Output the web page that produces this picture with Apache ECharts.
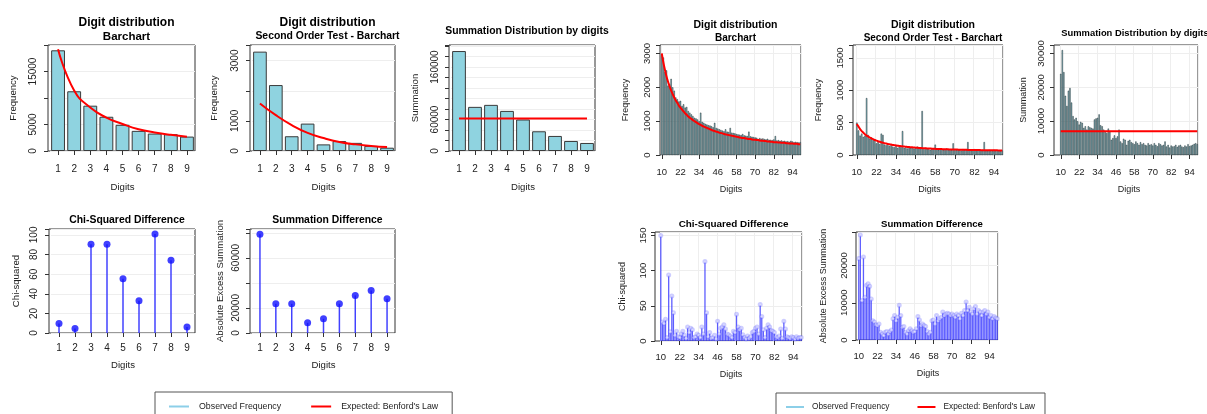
<!DOCTYPE html>
<html>
<head>
<meta charset="utf-8">
<script src="https://cdn.jsdelivr.net/npm/echarts@6/dist/echarts.min.js"></script>
<style>
  html, body { margin: 0; background: #fff; }
  #chart { width: 1207px; height: 414px; }
</style>
</head>
<body>
<div id="chart"></div>
<script>
// first digit (left block)
const digitsFirst = ['1', '2', '3', '4', '5', '6', '7', '8', '9']
const freqFirst = [19000, 11270, 8550, 6460, 4940, 3800, 3290, 3170, 2720]
const benfordFirst = [19200, 11400, 8200, 6300, 5100, 4100, 3500, 3050, 2700]
const freqSecondOrder = [3300, 2190, 490, 910, 220, 330, 270, 170, 110]
const benfordSecondOrder = [1580, 1190, 860, 600, 430, 300, 220, 170, 130]
const sumFirst = [190500, 84100, 87900, 76400, 60000, 37600, 28700, 19100, 15300]
const sumExpectedFirst = [62000, 62000, 62000, 62000, 62000, 62000, 62000, 62000, 62000]
const chiFirst = [9.6, 4.5, 90.5, 90.5, 55.3, 32.8, 101, 74.1, 6.1]
const sumDiffFirst = [78800, 23300, 23300, 8100, 11300, 23300, 30000, 34000, 27300]

// first two digits (right block)
const digitsTwo = [
  '10', '11', '12', '13', '14', '15', '16', '17', '18', '19',
  '20', '21', '22', '23', '24', '25', '26', '27', '28', '29',
  '30', '31', '32', '33', '34', '35', '36', '37', '38', '39',
  '40', '41', '42', '43', '44', '45', '46', '47', '48', '49',
  '50', '51', '52', '53', '54', '55', '56', '57', '58', '59',
  '60', '61', '62', '63', '64', '65', '66', '67', '68', '69',
  '70', '71', '72', '73', '74', '75', '76', '77', '78', '79',
  '80', '81', '82', '83', '84', '85', '86', '87', '88', '89',
  '90', '91', '92', '93', '94', '95', '96', '97', '98', '99'
]
const freqTwo = [
  2950, 2880, 2450, 2500, 2050, 2100, 2250, 2000, 1900, 1700,
  1650, 1580, 1600, 1450, 1500, 1400, 1420, 1300, 1250, 1200,
  1150, 1100, 1080, 1050, 1000, 1250, 980, 950, 920, 900,
  880, 870, 850, 820, 950, 800, 780, 760, 740, 720,
  700, 760, 690, 680, 800, 660, 650, 640, 620, 610,
  600, 590, 620, 580, 570, 560, 690, 550, 540, 530,
  520, 510, 470, 500, 480, 490, 470, 460, 480, 450,
  450, 440, 460, 560, 430, 440, 420, 430, 410, 420,
  400, 410, 390, 420, 400, 380, 390, 380, 370, 380
]
const benfordTwo = [
  3000, 2740, 2520, 2330, 2170, 2030, 1910, 1800, 1700, 1610,
  1540, 1460, 1400, 1340, 1290, 1230, 1190, 1140, 1100, 1070,
  1030, 1000, 970, 940, 910, 890, 860, 840, 820, 800,
  780, 760, 740, 720, 710, 690, 680, 660, 650, 640,
  620, 610, 600, 590, 580, 570, 560, 550, 540, 530,
  520, 510, 500, 500, 490, 480, 470, 470, 460, 450,
  450, 440, 440, 430, 420, 420, 410, 410, 400, 400,
  390, 390, 380, 380, 380, 370, 370, 360, 360, 360,
  350, 350, 340, 340, 340, 330, 330, 330, 320, 320
]
const freqTwoSecondOrder = [
  500, 380, 300, 330, 280, 300, 880, 310, 250, 270,
  230, 240, 180, 200, 170, 330, 310, 160, 150, 170,
  140, 150, 130, 120, 140, 110, 130, 120, 370, 110,
  120, 100, 130, 110, 120, 100, 110, 130, 120, 100,
  680, 90, 110, 100, 90, 80, 100, 90, 160, 90,
  80, 100, 90, 80, 90, 100, 80, 90, 80, 180,
  90, 80, 90, 80, 70, 90, 80, 80, 200, 80,
  70, 80, 90, 70, 80, 70, 80, 80, 200, 70,
  70, 80, 70, 60, 80, 70, 60, 70, 60, 70
]
const benfordTwoSecondOrder = [
  480, 440, 400, 370, 345, 320, 300, 285, 270, 255,
  245, 232, 222, 213, 205, 197, 190, 183, 177, 171,
  166, 161, 156, 152, 148, 144, 140, 137, 134, 131,
  128, 125, 123, 120, 118, 116, 114, 112, 110, 108,
  106, 105, 103, 102, 100, 99, 98, 96, 95, 94,
  93, 92, 91, 90, 89, 88, 87, 86, 86, 85,
  84, 84, 83, 82, 82, 81, 80, 80, 79, 79,
  78, 78, 77, 77, 76, 76, 75, 75, 75, 74,
  74, 73, 73, 73, 72, 72, 72, 71, 71, 71
]
const sumTwo = [
  24000, 31000, 24500, 17500, 14500, 19000, 19800, 15500, 11500, 10500,
  11000, 10000, 9000, 9800, 9500, 8000, 8500, 7500, 8500, 8200,
  8000, 7800, 10500, 10800, 11000, 12000, 8800, 8500, 7500, 7000,
  6500, 7800, 7000, 4500, 5000, 5800, 5000, 5500, 7500, 4000,
  3500, 4800, 4500, 3000, 4200, 4500, 3800, 3500, 3200, 4000,
  3500, 3000, 3800, 3200, 3500, 3000, 2800, 3500, 3000, 3200,
  2800, 3500, 3000, 2600, 3500, 3200, 2800, 3000, 4000, 2500,
  3000, 2200, 2800, 2500, 2600, 3000, 2400, 2800, 3000, 2500,
  2300, 2800, 2500, 3200, 2600, 2800, 3000, 3300, 3500, 3200
]
const sumExpectedTwo = [
  7000, 7000, 7000, 7000, 7000, 7000, 7000, 7000, 7000, 7000,
  7000, 7000, 7000, 7000, 7000, 7000, 7000, 7000, 7000, 7000,
  7000, 7000, 7000, 7000, 7000, 7000, 7000, 7000, 7000, 7000,
  7000, 7000, 7000, 7000, 7000, 7000, 7000, 7000, 7000, 7000,
  7000, 7000, 7000, 7000, 7000, 7000, 7000, 7000, 7000, 7000,
  7000, 7000, 7000, 7000, 7000, 7000, 7000, 7000, 7000, 7000,
  7000, 7000, 7000, 7000, 7000, 7000, 7000, 7000, 7000, 7000,
  7000, 7000, 7000, 7000, 7000, 7000, 7000, 7000, 7000, 7000,
  7000, 7000, 7000, 7000, 7000, 7000, 7000, 7000, 7000, 7000
]
const chiTwo = [
  150, 27, 25, 31, 5, 94, 13, 64, 40, 8,
  14, 6, 5, 10, 14, 8, 4, 20, 12, 18,
  16, 5, 6, 10, 8, 5, 20, 10, 113, 40,
  6, 12, 4, 5, 8, 3, 28, 10, 18, 20,
  23, 17, 10, 9, 7, 5, 14, 12, 38, 20,
  16, 18, 9, 5, 3, 7, 4, 6, 12, 14,
  18, 20, 10, 52, 35, 16, 5, 18, 23, 20,
  15, 14, 12, 6, 5, 7, 17, 4, 28, 17,
  6, 5, 4, 6, 5, 3, 6, 4, 5, 5
]
const sumDiffTwo = [
  21900, 28200, 10600, 22300, 11500, 14700, 15100, 14400, 11000, 5200,
  4800, 4100, 3900, 4300, 2100, 1600, 1200, 2100, 2300, 1600,
  2300, 2700, 5700, 6600, 5200, 6100, 9300, 6600, 3400, 3600,
  2100, 1600, 2500, 3000, 2500, 2100, 2300, 3000, 6300, 5400,
  3900, 4300, 3900, 3600, 2300, 1600, 2100, 5200, 5400, 4300,
  6600, 5200, 5700, 6100, 7500, 6600, 7000, 7200, 7000, 6600,
  7000, 6600, 6100, 7000, 6600, 5700, 7200, 6600, 7900, 10200,
  7900, 8800, 7500, 7000, 8400, 9000, 7000, 7900, 7500, 6600,
  7500, 7900, 7000, 7500, 6100, 6600, 5700, 6300, 5900, 5700
]

const FONT = 'Liberation Sans'
const BAR_FILL = '#8fd3e0'
const RED = '#ff0000'

const option = {
  animation: false,
  backgroundColor: '#fff',
  title: [],
  grid: [],
  xAxis: [],
  yAxis: [],
  series: [],
  legend: []
}

/**
 * one R-style plot: a framed box, title, category x axis and rotated y labels.
 * the frame is its own grid (with hidden axes) so the data grid can sit a bit inside it.
 */
const addPlot = (p) => {
  const [left, top, width, height] = p.box
  const padL = p.padL || 0
  const padR = p.padR || 0
  const frame = option.grid.length
  option.grid.push({
    left, top, width, height,
    show: true, borderColor: '#333', borderWidth: 1
  })
  option.xAxis.push({ gridIndex: frame, type: 'value', show: false })
  option.yAxis.push({ gridIndex: frame, type: 'value', show: false })

  const gi = option.grid.length
  option.grid.push({ left: left + padL, top, width: width - padL - padR, height })
  option.title.push({
    text: p.title,
    subtext: p.sub || '',
    left: p.titleX || left + width / 2,
    top: p.titleTop,
    textAlign: 'center',
    itemGap: p.gap || 2,
    textStyle: { fontFamily: FONT, fontSize: p.titleSize, fontWeight: 'bold', color: '#000' },
    subtextStyle: { fontFamily: FONT, fontSize: p.subSize || p.titleSize, fontWeight: 'bold', color: '#000' }
  })
  const step = p.labelStep || 0
  const ai = option.xAxis.length
  option.xAxis.push({
    gridIndex: gi,
    type: 'category',
    data: p.cats,
    name: 'Digits',
    nameLocation: 'middle',
    nameGap: p.xNameGap,
    nameTextStyle: { fontFamily: FONT, fontSize: p.small ? 9 : 9.6, color: '#222' },
    axisLine: { show: false },
    axisTick: { show: true, alignWithLabel: true, interval: step, length: 4, lineStyle: { color: '#333' } },
    axisLabel: { interval: step, margin: p.xMargin, fontFamily: FONT, fontSize: p.small ? 9.5 : 10, color: '#222' },
    splitLine: { show: step > 0, interval: step, lineStyle: { color: '#eeeeee' } }
  })
  const hide = p.hide || []
  option.yAxis.push({
    gridIndex: gi,
    type: 'value',
    offset: padL,
    min: 0,
    max: p.max,
    interval: p.interval,
    name: p.yName,
    nameLocation: 'middle',
    nameRotate: 90,
    nameGap: p.nameGap || 28,
    nameTextStyle: { fontFamily: FONT, fontSize: p.small ? 9 : 9.6, color: '#222' },
    axisLine: { show: false },
    axisTick: { show: true, length: 4, lineStyle: { color: '#333' } },
    axisLabel: {
      rotate: 90, margin: p.yMargin || 8, fontFamily: FONT, fontSize: p.small ? 9.5 : 10, color: '#222',
      formatter: (v) => (hide.includes(v) || v > p.lastLabel ? '' : String(v))
    },
    splitLine: { lineStyle: { color: '#eeeeee' } }
  })
  return ai
}

const barSeries = (i, data, small) => ({
  name: 'Observed Frequency',
  type: 'bar',
  xAxisIndex: i,
  yAxisIndex: i,
  data,
  barCategoryGap: small ? '18%' : '14%',
  itemStyle: { color: BAR_FILL, borderColor: small ? '#111a1c' : '#3a3a3a', borderWidth: small ? 0.45 : 1 }
})

const redLine = (i, data, smooth) => ({
  name: "Expected: Benford's Law",
  type: 'line',
  xAxisIndex: i,
  yAxisIndex: i,
  data,
  smooth,
  symbol: 'none',
  lineStyle: { color: RED, width: 2 },
  itemStyle: { color: RED },
  z: 5
})

const stems = (i, data, small) => [
  {
    name: 'stem',
    type: 'bar',
    xAxisIndex: i,
    yAxisIndex: i,
    data,
    barWidth: small ? 1.3 : 1.5,
    itemStyle: { color: small ? 'rgba(40,40,255,0.75)' : 'rgba(45,45,255,0.9)' }
  },
  {
    name: 'point',
    type: 'scatter',
    xAxisIndex: i,
    yAxisIndex: i,
    data,
    symbol: small ? 'emptyCircle' : 'circle',
    symbolSize: small ? 3 : 7,
    itemStyle: { color: small ? 'rgba(100,100,255,0.4)' : '#1010ff' }
  }
]

// left block: first digit
let g = addPlot({ box: [48, 45, 147, 106], padL: 2, title: 'Digit distribution', sub: 'Barchart', titleTop: 12,
  titleSize: 12, subSize: 11.5, cats: digitsFirst, max: 20000, interval: 5000, hide: [10000], lastLabel: 15000,
  yName: 'Frequency', nameGap: 30, yMargin: 10, xMargin: 13, xNameGap: 31 })
option.series.push(barSeries(g, freqFirst), redLine(g, benfordFirst, true))

g = addPlot({ box: [250, 45, 145, 106], padL: 2, title: 'Digit distribution', sub: 'Second Order Test - Barchart', titleTop: 12,
  titleSize: 12, subSize: 10.4, cats: digitsFirst, max: 3520, interval: 1000, hide: [2000], lastLabel: 3000,
  yName: 'Frequency', nameGap: 31, yMargin: 10, xMargin: 13, xNameGap: 31 })
option.series.push(barSeries(g, freqSecondOrder), redLine(g, benfordSecondOrder, true))

g = addPlot({ box: [449, 45, 146, 106], padL: 2, title: 'Summation Distribution by digits', titleTop: 21,
  titleSize: 10.4, cats: digitsFirst, max: 202000, interval: 20000, hide: [20000, 40000, 80000, 100000, 120000, 140000], lastLabel: 160000,
  yName: 'Summation', nameGap: 29, yMargin: 9, xMargin: 13, xNameGap: 31 })
option.series.push(barSeries(g, sumFirst), redLine(g, sumExpectedFirst, false))

g = addPlot({ box: [49, 229, 146, 104], padL: 2, title: 'Chi-Squared Difference', titleTop: 210,
  titleSize: 10.4, cats: digitsFirst, max: 106, interval: 20, lastLabel: 100,
  yName: 'Chi-squared', nameGap: 28, yMargin: 10, xMargin: 10, xNameGap: 27 })
option.series.push(...stems(g, chiFirst))

g = addPlot({ box: [250, 229, 145, 104], padL: 2, title: 'Summation Difference', titleTop: 210,
  titleSize: 10.4, cats: digitsFirst, max: 83000, interval: 20000, hide: [40000], lastLabel: 60000,
  yName: 'Absolute Excess Summation', nameGap: 25, yMargin: 9, xMargin: 10, xNameGap: 27 })
option.series.push(...stems(g, sumDiffFirst))

// right block: first two digits
g = addPlot({ box: [660, 45, 141, 110], padL: 1, title: 'Digit distribution', sub: 'Barchart', titleTop: 15, small: true,
  titleSize: 10.5, subSize: 10, cats: digitsTwo, labelStep: 11, max: 3250, interval: 1000, lastLabel: 3000,
  yName: 'Frequency', nameGap: 30, yMargin: 8, xMargin: 12, xNameGap: 30 })
option.series.push(barSeries(g, freqTwo, true), redLine(g, benfordTwo, true))

g = addPlot({ box: [853, 45, 150, 110], padL: 3, title: 'Digit distribution', sub: 'Second Order Test - Barchart', titleTop: 15, small: true,
  titleSize: 10.5, subSize: 10, cats: digitsTwo, labelStep: 11, max: 1700, interval: 500, lastLabel: 1500,
  yName: 'Frequency', nameGap: 30, yMargin: 8, xMargin: 12, xNameGap: 30 })
option.series.push(barSeries(g, freqTwoSecondOrder, true), redLine(g, benfordTwoSecondOrder, true))

g = addPlot({ box: [1054, 45, 144, 110], padL: 6, title: 'Summation Distribution by digits', titleTop: 24, titleX: 1130, small: true,
  titleSize: 9.4, cats: digitsTwo, labelStep: 11, max: 32500, interval: 10000, lastLabel: 30000,
  yName: 'Summation', nameGap: 26, yMargin: 8, xMargin: 12, xNameGap: 30 })
option.series.push(barSeries(g, sumTwo, true), redLine(g, sumExpectedTwo, false))

g = addPlot({ box: [655, 232, 147, 109], padL: 5, title: 'Chi-Squared Difference', titleTop: 214, small: true,
  titleSize: 9.9, cats: digitsTwo, labelStep: 11, max: 155, interval: 50, lastLabel: 150,
  yName: 'Chi-squared', nameGap: 28, yMargin: 7, xMargin: 11, xNameGap: 29 })
option.series.push(...stems(g, chiTwo, true))

g = addPlot({ box: [856, 232, 142, 108], padL: 2, title: 'Summation Difference', titleTop: 214, small: true,
  titleSize: 9.6, cats: digitsTwo, labelStep: 11, max: 29000, interval: 10000, lastLabel: 20000,
  yName: 'Absolute Excess Summation', nameGap: 28, yMargin: 7, xMargin: 11, xNameGap: 29 })
option.series.push(...stems(g, sumDiffTwo, true))

const legendItems = [
  { name: 'Observed Frequency', icon: 'rect', itemStyle: { color: '#8ccfe8', borderWidth: 0 } },
  { name: "Expected: Benford's Law", icon: 'rect', itemStyle: { color: RED, borderWidth: 0 } }
]
option.legend.push(
  {
    left: 155, top: 392, data: legendItems, selectedMode: false,
    itemWidth: 20, itemHeight: 2, itemGap: 30,
    padding: [10, 14, 12, 14], borderColor: '#555', borderWidth: 1,
    textStyle: { fontFamily: FONT, fontSize: 8.8, color: '#222', padding: [0, 0, 0, 5] }
  },
  {
    left: 776, top: 393, data: legendItems, selectedMode: false,
    itemWidth: 18, itemHeight: 2, itemGap: 28,
    padding: [10, 10, 12, 10], borderColor: '#555', borderWidth: 1,
    textStyle: { fontFamily: FONT, fontSize: 8.3, color: '#222', padding: [0, 0, 0, 3] }
  }
)

const chart = echarts.init(document.getElementById('chart'))
chart.setOption(option)
</script>
</body>
</html>
